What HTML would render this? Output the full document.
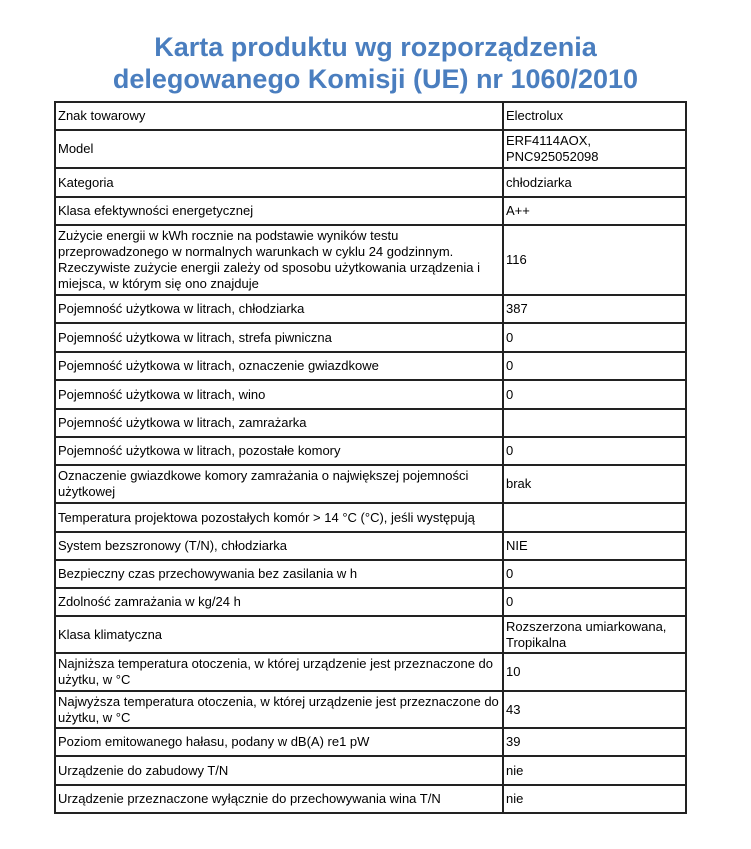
<!DOCTYPE html>
<html><head><meta charset="utf-8"><style>
body{margin:0;width:751px;height:849px;background:#fff;position:relative;font-family:"Liberation Sans",sans-serif;}
.t{position:absolute;left:0;width:751px;text-align:center;color:#4a7ebf;font-weight:bold;font-size:27px;line-height:32px;}
.c{position:absolute;display:flex;align-items:center;font-size:13px;line-height:16px;color:#000;box-sizing:border-box;padding-left:2px;}
.h{position:absolute;left:54px;width:632px;height:2px;background:#222;}
.v{position:absolute;top:101px;height:713px;width:2px;background:#222;}
</style></head><body>
<div class="t" style="top:31px">Karta produktu wg rozporządzenia</div>
<div class="t" style="top:63px">delegowanego Komisji (UE) nr 1060/2010</div>
<div class="v" style="left:54px"></div><div class="v" style="left:502px"></div><div class="v" style="left:685px"></div>
<div id="rows"></div>
<script>
var L=[101,129,167,196,224,294,322,351,379,408,436,464,502,531,559,587,615,652,690,727,755,784,812];
var D=[["Znak towarowy","Electrolux"],["Model","ERF4114AOX,<br>PNC925052098"],["Kategoria","chłodziarka"],["Klasa efektywności energetycznej","A++"],
["Zużycie energii w kWh rocznie na podstawie wyników testu przeprowadzonego w normalnych warunkach w cyklu 24 godzinnym. Rzeczywiste zużycie energii zależy od sposobu użytkowania urządzenia i miejsca, w którym się ono znajduje","116"],
["Pojemność użytkowa w litrach, chłodziarka","387"],["Pojemność użytkowa w litrach, strefa piwniczna","0"],["Pojemność użytkowa w litrach, oznaczenie gwiazdkowe","0"],["Pojemność użytkowa w litrach, wino","0"],["Pojemność użytkowa w litrach, zamrażarka",""],["Pojemność użytkowa w litrach, pozostałe komory","0"],
["Oznaczenie gwiazdkowe komory zamrażania o największej pojemności użytkowej","brak"],["Temperatura projektowa pozostałych komór &gt; 14 °C (°C), jeśli występują",""],["System bezszronowy (T/N), chłodziarka","NIE"],["Bezpieczny czas przechowywania bez zasilania w h","0"],["Zdolność zamrażania w kg/24 h","0"],["Klasa klimatyczna","Rozszerzona umiarkowana,<br>Tropikalna"],
["Najniższa temperatura otoczenia, w której urządzenie jest przeznaczone do użytku, w °C","10"],["Najwyższa temperatura otoczenia, w której urządzenie jest przeznaczone do użytku, w °C","43"],["Poziom emitowanego hałasu, podany w dB(A) re1 pW","39"],["Urządzenie do zabudowy T/N","nie"],["Urządzenie przeznaczone wyłącznie do przechowywania wina T/N","nie"]];
var h="";
for(var i=0;i<L.length;i++)h+='<div class="h" style="top:'+L[i]+'px"></div>';
for(var i=0;i<D.length;i++){var t=L[i]+2,hh=L[i+1]-L[i]-2;
h+='<div class="c" style="left:56px;width:446px;top:'+t+'px;height:'+hh+'px"><div>'+D[i][0]+'</div></div>';
h+='<div class="c" style="left:504px;width:181px;top:'+t+'px;height:'+hh+'px"><div>'+D[i][1]+'</div></div>';}
document.getElementById("rows").innerHTML=h;
</script>
</body></html>
